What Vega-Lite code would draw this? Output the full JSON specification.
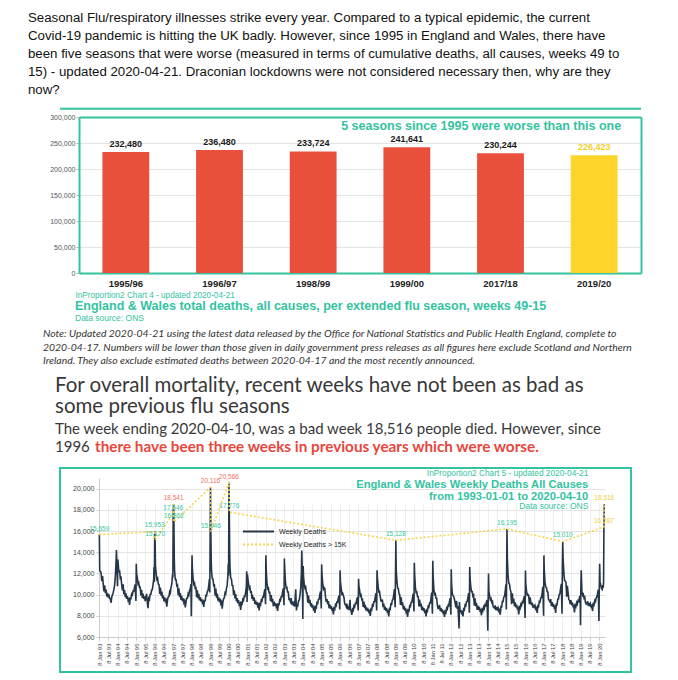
{
"$schema": "https://vega.github.io/schema/vega-lite/v6.json",
"background": "white",
"padding": {"left": 28, "top": 11, "right": 4, "bottom": 2},
"bounds": "flush",
"spacing": 0,
"title": {
  "text": ["Seasonal Flu/respiratory illnesses strike every year. Compared to a typical epidemic, the current", "Covid-19 pandemic is hitting the UK badly. However, since 1995 in England and Wales, there have", "been five seasons that were worse (measured in terms of cumulative deaths, all causes, weeks 49 to", "15) - updated 2020-04-21. Draconian lockdowns were not considered necessary then, why are they", "now?"],
  "anchor": "start", "frame": "group", "dx": -32, "offset": 10,
  "font": "Liberation Sans", "fontSize": 13.25, "fontWeight": "normal", "color": "#111111", "lineHeight": 18
},
"config": {"view": {"stroke": null}, "font": "Liberation Sans"},
"vconcat": [
{
  "width": 581, "height": 156,
  "data": {"values": [
    {"season": "1995/96", "deaths": 232480},
    {"season": "1996/97", "deaths": 236480},
    {"season": "1998/99", "deaths": 233724},
    {"season": "1999/00", "deaths": 241641},
    {"season": "2017/18", "deaths": 230244},
    {"season": "2019/20", "deaths": 226423}
  ]},
  "title": {"text": "England & Wales total deaths, all causes, per extended flu season, weeks 49-15", "subtitle": "Data source: ONS", "orient": "bottom", "anchor": "start", "frame": "group", "dx": 15, "offset": 1, "font": "Liberation Sans", "fontSize": 12.5, "fontWeight": "bold", "color": "#33c3a0", "subtitleFont": "Liberation Sans", "subtitleFontSize": 8.5, "subtitleColor": "#33c3a0", "subtitlePadding": 2},
  "resolve": {"axis": {"x": "independent", "y": "independent"}},
  "layer": [
    {
      "mark": {"type": "bar"},
      "encoding": {
        "x": {"field": "season", "type": "nominal", "sort": null, "scale": {"range": [19, 581], "paddingInner": 0.5, "paddingOuter": 0.25},
              "axis": {"orient": "bottom", "title": "InProportion2 Chart 4 - updated 2020-04-21", "titleX": 15, "titleAlign": "left", "titleFont": "Liberation Sans", "titleFontSize": 8.2, "titleFontWeight": "normal", "titleColor": "#33c3a0", "titlePadding": 4, "labelAngle": 0, "labelFont": "Liberation Sans", "labelFontSize": 9.5, "labelFontWeight": "bold", "labelColor": "#222222", "labelPadding": 5, "ticks": false, "domainColor": "#33c3a0", "domainWidth": 2, "grid": false}},
        "y": {"field": "deaths", "type": "quantitative", "scale": {"domain": [0, 300000], "nice": false},
              "axis": {"orient": "left", "offset": -19, "title": null, "values": [0, 50000, 100000, 150000, 200000, 250000, 300000], "labelExpr": "format(datum.value, ',')", "labelFont": "Liberation Sans", "labelFontSize": 7, "labelColor": "#555555", "tickSize": 3, "tickColor": "#bbbbbb", "labelPadding": 1, "domainColor": "#33c3a0", "domainWidth": 2, "grid": true, "gridColor": "#e3e3e3"}},
        "color": {"condition": {"test": "datum.season === '2019/20'", "value": "#fcd42a"}, "value": "#e9503b"}
      }
    },
    {
      "mark": {"type": "text", "baseline": "bottom", "dy": -3, "fontWeight": "bold", "fontSize": 9, "font": "Liberation Sans"},
      "encoding": {
        "x": {"field": "season", "type": "nominal", "sort": null, "axis": {"orient": "top", "title": null, "labels": false, "ticks": false, "domainColor": "#33c3a0", "domainWidth": 2, "grid": false}},
        "y": {"field": "deaths", "type": "quantitative", "axis": {"orient": "right", "title": null, "labels": false, "ticks": false, "domainColor": "#33c3a0", "domainWidth": 2, "grid": false}},
        "text": {"field": "deaths", "type": "quantitative", "format": ","},
        "color": {"condition": {"test": "datum.season === '2019/20'", "value": "#f6cf2d"}, "value": "#1a1a1a"}
      }
    },
    {
      "data": {"values": [{}]},
      "mark": {"type": "text", "align": "right", "baseline": "middle", "dx": 27, "fontSize": 12.5, "fontWeight": "bold", "font": "Liberation Sans", "color": "#33c3a0"},
      "encoding": {
        "x": {"datum": "2019/20", "type": "nominal", "axis": null},
        "y": {"datum": 283000, "type": "quantitative", "axis": null},
        "text": {"value": "5 seasons since 1995 were worse than this one"}
      }
    },
    {
      "data": {"values": [{}]},
      "mark": {"type": "rule", "color": "#33c3a0", "strokeWidth": 2},
      "encoding": {"y": {"datum": 316000, "type": "quantitative", "axis": null}}
    }
  ]
},
{
  "width": 571, "height": 181,
  "data": {"values": []},
  "mark": "point",
  "title": {"text": ["Note: Updated 2020-04-21 using the latest data released by the Office for National Statistics and Public Health England, complete to", "2020-04-17. Numbers will be lower than those given in daily government press releases as all figures here exclude Scotland and Northern", "Ireland. They also exclude estimated deaths between 2020-04-17 and the most recently announced."],
    "anchor": "start", "frame": "group", "orient": "top", "dx": -17, "offset": -93.5, "font": "Lato", "fontStyle": "italic", "fontSize": 10.4, "fontWeight": "normal", "color": "#333333", "lineHeight": 13.5}
},
{
  "width": 571, "height": 14,
  "data": {"values": []},
  "mark": "point",
  "title": {"text": ["For overall mortality, recent weeks have not been as bad as", "some previous flu seasons"],
    "subtitle": ["The week ending 2020-04-10, was a bad week 18,516 people died. However, since", "1996"],
    "anchor": "start", "frame": "group", "dx": -5, "offset": -1, "font": "Lato", "fontSize": 20.5, "fontWeight": "normal", "color": "#383838", "lineHeight": 21,
    "subtitleFont": "Lato", "subtitleFontSize": 15, "subtitleColor": "#383838", "subtitleLineHeight": 18, "subtitlePadding": 5}
},
{
  "width": 571, "height": 204,
  "view": {"stroke": "#33c3a0", "strokeWidth": 2},
  "title": {"text": "there have been three weeks in previous years which were worse.", "anchor": "start", "frame": "group", "dx": 35, "offset": 13, "font": "Lato", "fontSize": 15.3, "fontWeight": "bold", "color": "#e8463c"},
  "data": {"values": "d,v\n1993-01-08,15659\n1993-01-15,12250\n1993-01-29,12200\n1993-02-12,12030\n1993-02-26,11260\n1993-03-12,11760\n1993-03-26,10950\n1993-04-09,10310\n1993-04-23,10880\n1993-05-07,10140\n1993-05-21,10480\n1993-06-04,9820\n1993-06-18,10130\n1993-07-02,9710\n1993-07-16,10020\n1993-07-30,9630\n1993-08-13,9600\n1993-08-27,9230\n1993-09-10,9800\n1993-09-24,9950\n1993-10-08,10200\n1993-10-22,10500\n1993-11-05,10900\n1993-11-19,11700\n1993-12-03,13100\n1993-12-10,14200\n1993-12-17,13400\n1993-12-31,10800\n1994-01-07,13300\n1994-01-14,12950\n1994-01-28,12100\n1994-02-11,12280\n1994-02-25,11540\n1994-03-11,11610\n1994-03-25,10900\n1994-04-08,10390\n1994-04-22,10970\n1994-05-06,10030\n1994-05-20,10430\n1994-06-03,9750\n1994-06-17,10110\n1994-07-01,9600\n1994-07-15,9860\n1994-07-29,9450\n1994-08-12,9550\n1994-08-26,9020\n1994-09-09,9660\n1994-09-23,9630\n1994-10-07,10060\n1994-10-21,9980\n1994-11-04,10340\n1994-11-18,10320\n1994-12-02,10690\n1994-12-16,10970\n1994-12-30,9400\n1995-01-06,12900\n1995-01-13,12000\n1995-01-27,11540\n1995-02-10,11000\n1995-02-24,11110\n1995-03-10,10690\n1995-03-24,10700\n1995-04-07,9920\n1995-04-21,10460\n1995-05-05,9680\n1995-05-19,10100\n1995-06-02,9590\n1995-06-16,9840\n1995-06-30,9390\n1995-07-14,9740\n1995-07-28,10070\n1995-08-11,9300\n1995-08-25,8710\n1995-09-08,9650\n1995-09-22,9540\n1995-10-06,10020\n1995-10-20,10030\n1995-11-03,10420\n1995-11-17,10450\n1995-12-01,10900\n1995-12-15,11400\n1995-12-22,12600\n1995-12-29,11200\n1996-01-05,15953\n1996-01-12,15170\n1996-01-19,12700\n1996-02-02,11970\n1996-02-16,11430\n1996-03-01,11540\n1996-03-15,10980\n1996-03-29,10950\n1996-04-12,10070\n1996-04-26,10660\n1996-05-10,9890\n1996-05-24,10280\n1996-06-07,9650\n1996-06-21,9910\n1996-07-05,9370\n1996-07-19,9730\n1996-08-02,9390\n1996-08-16,9500\n1996-08-30,8860\n1996-09-13,9500\n1996-09-27,9790\n1996-10-11,9820\n1996-10-25,10280\n1996-11-08,10170\n1996-11-22,10700\n1996-12-06,11000\n1996-12-20,11900\n1996-12-27,11600\n1997-01-03,17646\n1997-01-10,18541\n1997-01-17,16862\n1997-01-24,13400\n1997-01-31,12150\n1997-02-14,11400\n1997-02-28,11400\n1997-03-14,10840\n1997-03-28,10900\n1997-04-11,9950\n1997-04-25,10600\n1997-05-09,9760\n1997-05-23,10150\n1997-06-06,9510\n1997-06-20,9870\n1997-07-04,9380\n1997-07-18,9640\n1997-08-01,9240\n1997-08-15,9400\n1997-08-29,8800\n1997-09-12,9280\n1997-09-26,9650\n1997-10-10,9650\n1997-10-24,10080\n1997-11-07,9950\n1997-11-21,10400\n1997-12-05,10530\n1997-12-19,10980\n1997-12-26,7950\n1998-01-09,13700\n1998-01-16,12400\n1998-01-30,11530\n1998-02-13,10980\n1998-02-27,11080\n1998-03-13,10600\n1998-03-27,10650\n1998-04-10,9750\n1998-04-24,10400\n1998-05-08,9650\n1998-05-22,10080\n1998-06-05,9450\n1998-06-19,9750\n1998-07-03,9350\n1998-07-17,9600\n1998-07-31,9230\n1998-08-14,9350\n1998-08-28,8850\n1998-09-11,9410\n1998-09-25,9420\n1998-10-09,9930\n1998-10-23,9900\n1998-11-06,10310\n1998-11-20,10370\n1998-12-04,10840\n1998-12-18,11460\n1998-12-25,10200\n1999-01-08,20116\n1999-01-15,15946\n1999-01-22,13200\n1999-01-29,12220\n1999-02-12,11500\n1999-02-26,11480\n1999-03-12,10860\n1999-03-26,10900\n1999-04-09,9910\n1999-04-23,10580\n1999-05-07,9700\n1999-05-21,10100\n1999-06-04,9430\n1999-06-18,9750\n1999-07-02,9290\n1999-07-16,9610\n1999-07-30,9150\n1999-08-13,9300\n1999-08-27,8680\n1999-09-10,9310\n1999-09-24,9630\n1999-10-08,9690\n1999-10-22,10180\n1999-11-05,10090\n1999-11-19,10600\n1999-12-03,10890\n1999-12-17,11800\n1999-12-24,12900\n1999-12-31,11800\n2000-01-07,20566\n2000-01-14,17776\n2000-01-21,14000\n2000-01-28,12490\n2000-02-11,11550\n2000-02-25,11460\n2000-03-10,10870\n2000-03-24,10850\n2000-04-07,9970\n2000-04-21,10410\n2000-05-05,9650\n2000-05-19,10050\n2000-06-02,9360\n2000-06-16,9680\n2000-06-30,9200\n2000-07-14,9470\n2000-07-28,9050\n2000-08-11,9150\n2000-08-25,8560\n2000-09-08,9220\n2000-09-22,9130\n2000-10-06,9560\n2000-10-20,9470\n2000-11-03,9840\n2000-11-17,9820\n2000-12-01,10240\n2000-12-15,10770\n2000-12-22,12200\n2000-12-29,9300\n2001-01-05,11900\n2001-01-12,11600\n2001-01-26,11060\n2001-02-09,10580\n2001-02-23,10700\n2001-03-09,10230\n2001-03-23,10250\n2001-04-06,9590\n2001-04-20,9770\n2001-05-04,9410\n2001-05-18,9730\n2001-06-01,9130\n2001-06-15,9420\n2001-06-29,9040\n2001-07-13,9280\n2001-07-27,8920\n2001-08-10,9050\n2001-08-24,8520\n2001-09-07,9120\n2001-09-21,9040\n2001-10-05,9480\n2001-10-19,9400\n2001-11-02,9770\n2001-11-16,9760\n2001-11-30,10180\n2001-12-14,10520\n2001-12-28,9100\n2002-01-04,13700\n2002-01-11,12300\n2002-01-25,11140\n2002-02-08,10550\n2002-02-22,10610\n2002-03-08,10190\n2002-03-22,10200\n2002-04-05,9370\n2002-04-19,9960\n2002-05-03,9280\n2002-05-17,9600\n2002-05-31,8890\n2002-06-14,9340\n2002-06-28,8940\n2002-07-12,9190\n2002-07-26,8870\n2002-08-09,9000\n2002-08-23,8460\n2002-09-06,9080\n2002-09-20,9050\n2002-10-04,9500\n2002-10-18,9430\n2002-11-01,9800\n2002-11-15,9800\n2002-11-29,10230\n2002-12-13,10580\n2002-12-27,9000\n2003-01-03,13400\n2003-01-10,12500\n2003-01-24,11230\n2003-02-07,10630\n2003-02-21,10680\n2003-03-07,10250\n2003-03-21,10250\n2003-04-04,9550\n2003-04-18,9550\n2003-05-02,9350\n2003-05-16,9680\n2003-05-30,9050\n2003-06-13,9350\n2003-06-27,8950\n2003-07-11,9150\n2003-07-25,8880\n2003-08-15,10500\n2003-08-22,9500\n2003-08-29,8500\n2003-09-12,9050\n2003-09-26,8980\n2003-10-10,9420\n2003-10-24,9500\n2003-11-07,9950\n2003-11-21,10600\n2003-12-05,12100\n2003-12-12,14150\n2003-12-19,12900\n2003-12-26,10800\n2004-01-02,7700\n2004-01-09,12700\n2004-01-16,11700\n2004-01-30,10980\n2004-02-13,10600\n2004-02-27,10720\n2004-03-12,10170\n2004-03-26,10150\n2004-04-09,9240\n2004-04-23,9920\n2004-05-07,9170\n2004-05-21,9500\n2004-06-04,8890\n2004-06-18,9190\n2004-07-02,8770\n2004-07-16,9020\n2004-07-30,8630\n2004-08-13,8750\n2004-08-27,8270\n2004-09-10,8840\n2004-09-24,8770\n2004-10-08,9240\n2004-10-22,9180\n2004-11-05,9560\n2004-11-19,9580\n2004-12-03,10020\n2004-12-17,10290\n2004-12-31,8700\n2005-01-07,12850\n2005-01-14,11900\n2005-01-28,11100\n2005-02-11,10520\n2005-02-25,10660\n2005-03-11,10570\n2005-03-25,9700\n2005-04-08,9310\n2005-04-22,9580\n2005-05-06,9090\n2005-05-20,9380\n2005-06-03,8720\n2005-06-17,9080\n2005-07-01,8660\n2005-07-15,8920\n2005-07-29,8580\n2005-08-12,8650\n2005-08-26,8130\n2005-09-09,8710\n2005-09-23,8620\n2005-10-07,9050\n2005-10-21,8950\n2005-11-04,9310\n2005-11-18,9290\n2005-12-02,9690\n2005-12-16,9910\n2005-12-30,8600\n2006-01-06,12300\n2006-01-13,11200\n2006-01-27,10570\n2006-02-10,10050\n2006-02-24,10130\n2006-03-10,9930\n2006-03-24,9700\n2006-04-07,9110\n2006-04-21,9080\n2006-05-05,8880\n2006-05-19,9150\n2006-06-02,8610\n2006-06-16,8910\n2006-06-30,8530\n2006-07-21,9500\n2006-07-28,8670\n2006-08-11,8450\n2006-08-25,8080\n2006-09-08,8600\n2006-09-22,8510\n2006-10-06,8930\n2006-10-20,8830\n2006-11-03,9180\n2006-11-17,9150\n2006-12-01,9550\n2006-12-15,9760\n2006-12-29,8500\n2007-01-05,11500\n2007-01-12,10800\n2007-01-26,10390\n2007-02-09,9880\n2007-02-23,9970\n2007-03-09,9520\n2007-03-23,9550\n2007-04-06,8830\n2007-04-20,9340\n2007-05-04,8710\n2007-05-18,9030\n2007-06-01,8500\n2007-06-15,8790\n2007-06-29,8430\n2007-07-13,8670\n2007-07-27,8360\n2007-08-10,8450\n2007-08-24,7990\n2007-09-07,8630\n2007-09-21,8560\n2007-10-05,9020\n2007-10-19,8950\n2007-11-02,9330\n2007-11-16,9340\n2007-11-30,9770\n2007-12-14,10130\n2007-12-28,8500\n2008-01-04,12300\n2008-01-11,11600\n2008-01-25,10810\n2008-02-08,10250\n2008-02-22,10290\n2008-03-07,9810\n2008-03-21,9400\n2008-04-04,9380\n2008-04-18,9540\n2008-05-02,8820\n2008-05-16,9150\n2008-05-30,8560\n2008-06-13,8860\n2008-06-27,8460\n2008-07-11,8710\n2008-07-25,8380\n2008-08-08,8450\n2008-08-22,7940\n2008-09-05,8660\n2008-09-19,8610\n2008-10-03,9110\n2008-10-17,9080\n2008-10-31,9480\n2008-11-14,9530\n2008-11-28,9990\n2008-12-12,10510\n2008-12-26,8800\n2009-01-02,11800\n2009-01-09,15128\n2009-01-16,12400\n2009-01-30,11240\n2009-02-13,10620\n2009-02-27,10570\n2009-03-13,10050\n2009-03-27,10000\n2009-04-10,9030\n2009-04-24,9740\n2009-05-08,8980\n2009-05-22,9280\n2009-06-05,8620\n2009-06-19,8930\n2009-07-03,8490\n2009-07-17,8750\n2009-07-31,8340\n2009-08-14,8450\n2009-08-28,7890\n2009-09-11,8540\n2009-09-25,8470\n2009-10-09,8940\n2009-10-23,8880\n2009-11-06,9260\n2009-11-20,9280\n2009-12-04,9720\n2009-12-18,10090\n2010-01-01,8400\n2010-01-08,13000\n2010-01-15,11900\n2010-01-29,10710\n2010-02-12,10200\n2010-02-26,10240\n2010-03-12,9810\n2010-03-26,9800\n2010-04-09,8880\n2010-04-23,9540\n2010-05-07,8870\n2010-05-21,9150\n2010-06-04,8560\n2010-06-18,8860\n2010-07-02,8460\n2010-07-16,8710\n2010-07-30,8380\n2010-08-13,8450\n2010-08-27,7940\n2010-09-10,8530\n2010-09-24,8450\n2010-10-08,8900\n2010-10-22,8830\n2010-11-05,9200\n2010-11-19,9200\n2010-12-03,9630\n2010-12-17,10180\n2010-12-31,8200\n2011-01-07,13200\n2011-01-14,11700\n2011-01-28,10520\n2011-02-11,10020\n2011-02-25,10080\n2011-03-11,9650\n2011-03-25,9650\n2011-04-08,8950\n2011-04-22,8700\n2011-05-06,8750\n2011-05-20,9020\n2011-06-03,8450\n2011-06-17,8750\n2011-07-01,8350\n2011-07-15,8600\n2011-07-29,8280\n2011-08-12,8350\n2011-08-26,7900\n2011-09-09,8410\n2011-09-23,8310\n2011-10-07,8730\n2011-10-21,8630\n2011-11-04,8980\n2011-11-18,8950\n2011-12-02,9350\n2011-12-16,9660\n2011-12-30,8100\n2012-01-06,12400\n2012-01-13,11000\n2012-01-27,10100\n2012-02-10,9900\n2012-02-24,9800\n2012-03-09,9560\n2012-03-23,9200\n2012-04-06,8800\n2012-04-20,9400\n2012-05-04,8640\n2012-05-18,8900\n2012-06-08,6800\n2012-06-15,9300\n2012-06-29,8320\n2012-07-13,8560\n2012-07-27,8260\n2012-08-10,8350\n2012-08-24,7950\n2012-09-07,8630\n2012-09-21,8560\n2012-10-05,9020\n2012-10-19,8950\n2012-11-02,9330\n2012-11-16,9340\n2012-11-30,9770\n2012-12-14,10130\n2012-12-28,8300\n2013-01-04,12600\n2013-01-11,11600\n2013-01-25,10720\n2013-02-08,10280\n2013-02-22,10280\n2013-03-08,9850\n2013-03-22,9950\n2013-04-05,8950\n2013-04-19,9650\n2013-05-03,8900\n2013-05-17,9220\n2013-05-31,8550\n2013-06-14,8950\n2013-06-28,8550\n2013-07-12,8850\n2013-07-26,8480\n2013-08-09,8550\n2013-08-23,8050\n2013-09-06,8580\n2013-09-20,8460\n2013-10-04,8840\n2013-10-18,8700\n2013-11-01,9030\n2013-11-15,8960\n2013-11-29,9320\n2013-12-13,9480\n2013-12-27,6600\n2014-01-03,9500\n2014-01-10,12000\n2014-01-17,10300\n2014-01-31,9880\n2014-02-14,9520\n2014-02-28,9620\n2014-03-14,9270\n2014-03-28,9350\n2014-04-11,8850\n2014-04-25,8800\n2014-05-09,8730\n2014-05-23,8980\n2014-06-06,8530\n2014-06-20,8810\n2014-07-04,8490\n2014-07-18,8720\n2014-08-01,8440\n2014-08-15,8550\n2014-08-29,8100\n2014-09-12,8870\n2014-09-26,8840\n2014-10-10,9360\n2014-10-24,9350\n2014-11-07,9770\n2014-11-21,9840\n2014-12-05,10330\n2014-12-19,10970\n2014-12-26,8600\n2015-01-02,12200\n2015-01-09,16195\n2015-01-16,13500\n2015-01-30,11800\n2015-02-13,11080\n2015-02-27,11000\n2015-03-13,10510\n2015-03-27,10250\n2015-04-10,9090\n2015-04-24,10120\n2015-05-08,9230\n2015-05-22,9620\n2015-06-05,8900\n2015-06-19,9260\n2015-07-03,8800\n2015-07-17,9060\n2015-07-31,8700\n2015-08-14,8750\n2015-08-28,8120\n2015-09-11,8800\n2015-09-25,8690\n2015-10-09,9090\n2015-10-23,8980\n2015-11-06,9320\n2015-11-20,9270\n2015-12-04,9660\n2015-12-18,9840\n2016-01-01,7800\n2016-01-08,12270\n2016-01-15,11000\n2016-01-29,10330\n2016-02-12,9950\n2016-02-26,10020\n2016-03-11,9940\n2016-03-25,9100\n2016-04-08,9740\n2016-04-22,9320\n2016-05-06,9000\n2016-05-20,9250\n2016-06-03,8770\n2016-06-17,9050\n2016-07-01,8710\n2016-07-15,8940\n2016-07-29,8650\n2016-08-12,8750\n2016-08-26,8270\n2016-09-09,8940\n2016-09-23,8880\n2016-10-07,9350\n2016-10-21,9300\n2016-11-04,9690\n2016-11-18,9710\n2016-12-02,10160\n2016-12-16,10740\n2016-12-30,8000\n2017-01-06,13700\n2017-01-13,12300\n2017-01-27,11200\n2017-02-10,10720\n2017-02-24,10700\n2017-03-10,10270\n2017-03-24,10250\n2017-04-07,9510\n2017-04-21,9480\n2017-05-05,9240\n2017-05-19,9570\n2017-06-02,8920\n2017-06-16,9280\n2017-06-30,8860\n2017-07-14,9120\n2017-07-28,8780\n2017-08-11,8850\n2017-08-25,8280\n2017-09-08,9080\n2017-09-22,9050\n2017-10-06,9580\n2017-10-20,9580\n2017-11-03,10000\n2017-11-17,10080\n2017-12-01,10580\n2017-12-15,11020\n2017-12-29,8200\n2018-01-05,12900\n2018-01-12,15010\n2018-01-19,13400\n2018-02-02,12090\n2018-02-16,11350\n2018-03-02,11260\n2018-03-16,11170\n2018-03-30,9800\n2018-04-13,10820\n2018-04-27,10160\n2018-05-11,9550\n2018-05-25,9450\n2018-06-08,9110\n2018-06-22,9480\n2018-07-06,9000\n2018-07-20,9270\n2018-08-03,8900\n2018-08-17,8950\n2018-08-31,8310\n2018-09-14,8980\n2018-09-28,8860\n2018-10-12,9240\n2018-10-26,9100\n2018-11-09,9430\n2018-11-23,9360\n2018-12-07,9720\n2018-12-21,9880\n2018-12-28,7100\n2019-01-04,10600\n2019-01-11,12300\n2019-01-25,10280\n2019-02-08,9930\n2019-02-22,10030\n2019-03-08,9670\n2019-03-22,9750\n2019-04-05,9250\n2019-04-19,9100\n2019-05-03,9130\n2019-05-17,9380\n2019-05-31,8930\n2019-06-14,9210\n2019-06-28,8890\n2019-07-12,9120\n2019-07-26,8850\n2019-08-09,8950\n2019-08-23,8450\n2019-09-06,9100\n2019-09-20,9010\n2019-10-04,9430\n2019-10-18,9330\n2019-11-01,9680\n2019-11-15,9800\n2019-11-29,10050\n2019-12-13,10460\n2019-12-27,7500\n2020-01-03,10900\n2020-01-10,12900\n2020-01-17,11200\n2020-01-31,10900\n2020-02-14,10600\n2020-02-28,10500\n2020-03-13,10900\n2020-03-20,10645\n2020-03-27,11141\n2020-04-03,16387\n2020-04-10,18516",
    "format": {"type": "csv", "parse": {"d": "date", "v": "number"}}},
  "encoding": {
    "x": {"field": "d", "type": "temporal",
          "scale": {"domain": [{"year": 1993, "month": 1, "date": 1}, {"year": 2020, "month": 4, "date": 24}], "range": [39, 545]},
          "axis": {"title": null, "offset": -35, "tickCount": {"interval": "month", "step": 6}, "labelExpr": "'8 ' + timeFormat(datum.value, '%b %y')", "labelAngle": -90, "labelFont": "Liberation Sans", "labelFontSize": 5.8, "labelColor": "#444444", "labelOverlap": false, "labelFlush": false, "labelPadding": 3, "tickSize": 3, "tickColor": "#cccccc", "domainColor": "#cccccc", "grid": true, "gridColor": "#eeeeee"}},
    "y": {"field": "v", "type": "quantitative",
          "scale": {"domain": [6000, 21000], "range": [169, 10], "nice": false, "zero": false},
          "axis": {"title": null, "offset": -39, "values": [6000, 8000, 10000, 12000, 14000, 16000, 18000, 20000], "labelExpr": "format(datum.value, ',')", "labelFont": "Liberation Sans", "labelFontSize": 7, "labelColor": "#444444", "tickSize": 3, "tickColor": "#cccccc", "domainColor": "#cccccc", "gridColor": "#e4e4e4"}}
  },
  "layer": [
    {
      "mark": {"type": "line", "strokeWidth": 1.6},
      "encoding": {
        "color": {"datum": "Weekly Deaths", "type": "nominal", "scale": {"domain": ["Weekly Deaths", "Weekly Deaths > 15K"], "range": ["#253649", "#f6d650"]},
                  "legend": {"title": null, "orient": "none", "legendX": 192, "legendY": 408, "symbolType": "M-3,0H3", "symbolSize": 107, "symbolStrokeWidth": 1.8, "labelFont": "Liberation Sans", "labelFontSize": 7, "labelColor": "#222222", "rowPadding": 2, "labelOffset": 14}},
        "strokeDash": {"datum": "Weekly Deaths", "type": "nominal", "scale": {"domain": ["Weekly Deaths", "Weekly Deaths > 15K"], "range": [[1, 0], [2, 2]]},
                  "legend": {"title": null, "orient": "none", "legendX": 192, "legendY": 408, "symbolType": "M-3,0H3", "symbolSize": 107, "symbolStrokeWidth": 1.8, "labelFont": "Liberation Sans", "labelFontSize": 7, "labelColor": "#222222", "rowPadding": 2, "labelOffset": 14}}
      }
    },
    {
      "transform": [{"filter": "datum.v > 15000"}],
      "mark": {"type": "line", "strokeWidth": 1.6},
      "encoding": {
        "color": {"datum": "Weekly Deaths > 15K", "type": "nominal"},
        "strokeDash": {"datum": "Weekly Deaths > 15K", "type": "nominal"}
      }
    },
    {
      "transform": [{"filter": "datum.v > 15000"}],
      "mark": {"type": "text", "fontSize": 6.5, "dy": -6, "font": "Liberation Sans"},
      "encoding": {
        "text": {"field": "v", "type": "quantitative", "format": ","},
        "color": {"condition": [{"test": "year(datum.d) === 2020", "value": "#f2cf45"}, {"test": "datum.v > 18516", "value": "#f07060"}], "value": "#35c6a3"}
      }
    },
    {
      "transform": [{"filter": "utcyear(datum.d) === 2019 && utcmonth(datum.d) === 4 && utcdate(datum.d) === 31"}],
      "mark": {"type": "text", "align": "right", "baseline": "middle", "fontSize": 8.3, "font": "Liberation Sans", "color": "#33c3a0"},
      "encoding": {"y": {"datum": 21380, "type": "quantitative"}, "text": {"value": "InProportion2 Chart 5 - updated 2020-04-21"}}
    },
    {
      "transform": [{"filter": "utcyear(datum.d) === 2019 && utcmonth(datum.d) === 4 && utcdate(datum.d) === 31"}],
      "mark": {"type": "text", "align": "right", "baseline": "middle", "fontSize": 11.2, "fontWeight": "bold", "font": "Liberation Sans", "color": "#33c3a0"},
      "encoding": {"y": {"datum": 20300, "type": "quantitative"}, "text": {"value": "England & Wales Weekly Deaths All Causes"}}
    },
    {
      "transform": [{"filter": "utcyear(datum.d) === 2019 && utcmonth(datum.d) === 4 && utcdate(datum.d) === 31"}],
      "mark": {"type": "text", "align": "right", "baseline": "middle", "fontSize": 11.2, "fontWeight": "bold", "font": "Liberation Sans", "color": "#33c3a0"},
      "encoding": {"y": {"datum": 19208, "type": "quantitative"}, "text": {"value": "from 1993-01-01 to 2020-04-10"}}
    },
    {
      "transform": [{"filter": "utcyear(datum.d) === 2019 && utcmonth(datum.d) === 4 && utcdate(datum.d) === 31"}],
      "mark": {"type": "text", "align": "right", "baseline": "middle", "fontSize": 8.5, "font": "Liberation Sans", "color": "#33c3a0"},
      "encoding": {"y": {"datum": 18358, "type": "quantitative"}, "text": {"value": "Data source: ONS"}}
    }
  ]
}
]
}
